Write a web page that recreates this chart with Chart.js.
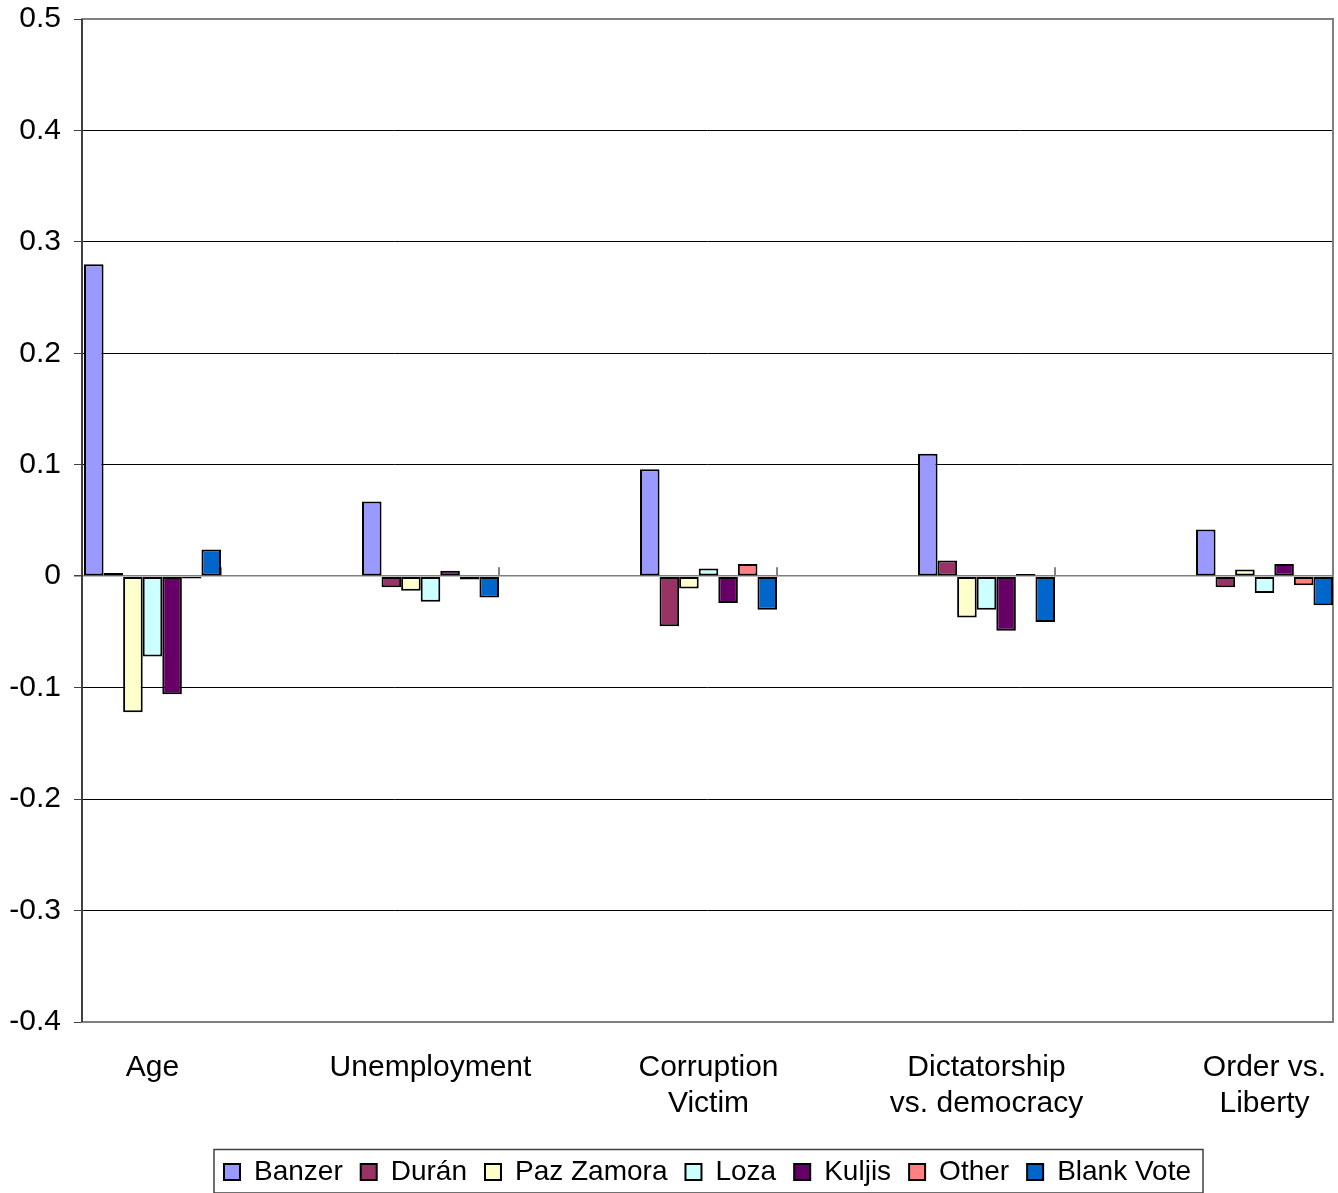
<!DOCTYPE html>
<html>
<head>
<meta charset="utf-8">
<title>Vote choice effects</title>
<script src="https://cdn.jsdelivr.net/npm/chart.js@4/dist/chart.umd.min.js"></script>
<style>
  html, body { margin: 0; padding: 0; background: #ffffff; }
  #wrap { width: 1338px; height: 1193px; position: relative; }
</style>
</head>
<body>
<div id="wrap"><canvas id="chart"></canvas></div>
<script>
// Explanatory variables (multi-line labels as arrays of lines)
const categories = [
  ["Age"],
  ["Unemployment"],
  ["Corruption", "Victim"],
  ["Dictatorship", "vs. democracy"],
  ["Order vs.", "Liberty"]
];

// Candidates / vote options
const seriesNames = ["Banzer", "Durán", "Paz Zamora", "Loza", "Kuljis", "Other", "Blank Vote"];

// Effect sizes per category
const banzer    = [0.280, 0.067, 0.096, 0.110, 0.042];
const duran     = [0.003, -0.010, -0.045, 0.014, -0.010];
const pazZamora = [-0.122, -0.013, -0.011, -0.037, 0.006];
const loza      = [-0.072, -0.023, 0.007, -0.030, -0.015];
const kuljis    = [-0.106, 0.005, -0.024, -0.049, 0.011];
const other     = [-0.002, -0.003, 0.011, 0.002, -0.008];
const blankVote = [0.024, -0.019, -0.030, -0.041, -0.026];

// Value axis ticks
const yTickValues = [-0.4, -0.3, -0.2, -0.1, 0, 0.1, 0.2, 0.3, 0.4, 0.5];
const yTickLabels = ["-0.4", "-0.3", "-0.2", "-0.1", "0", "0.1", "0.2", "0.3", "0.4", "0.5"];

const seriesValues = [banzer, duran, pazZamora, loza, kuljis, other, blankVote];
const seriesColors = ["#9999FF", "#993366", "#FFFFCC", "#CCFFFF", "#660066", "#FF8080", "#0066CC"];

const FONT = "'Liberation Sans', Arial, sans-serif";

const datasets = seriesNames.map((name, s) => ({
  label: name,
  data: seriesValues[s].map((v, i) => ({ x: i, y: v })),
  backgroundColor: seriesColors[s],
  borderColor: "#000000",
  borderWidth: 2,
  borderSkipped: false,
  categoryPercentage: 0.493,
  barPercentage: 1.0
}));

// Plot frame, zero-line tick marks and legend box
const framePlugin = {
  id: "frame",
  beforeDatasetsDraw(chart) {
    const { ctx, chartArea: a, scales } = chart;
    ctx.save();
    ctx.strokeStyle = "#808080";
    ctx.lineWidth = 2;
    ctx.strokeRect(a.left, a.top, a.right - a.left, a.bottom - a.top);
    // left value axis line
    ctx.strokeStyle = "#404040";
    ctx.beginPath();
    ctx.moveTo(a.left, a.top);
    ctx.lineTo(a.left, a.bottom);
    ctx.stroke();
    // small category separators on the zero line, at the right end of each cluster
    const y0 = scales.y.getPixelForValue(0);
    const lastMeta = chart.getDatasetMeta(chart.data.datasets.length - 1);
    ctx.strokeStyle = "#808080";
    ctx.lineWidth = 2;
    lastMeta.data.forEach(bar => {
      const xr = bar.x + bar.width / 2;
      ctx.beginPath();
      ctx.moveTo(xr, y0);
      ctx.lineTo(xr, y0 - 9);
      ctx.stroke();
    });
    ctx.restore();
  },
  afterDraw(chart) {
    const lg = chart.legend;
    if (!lg || !lg.legendHitBoxes || !lg.legendHitBoxes.length) return;
    const hb = lg.legendHitBoxes;
    const left = Math.min(...hb.map(h => h.left)) - 10;
    const right = Math.max(...hb.map(h => h.left + h.width)) + 12;
    const cy = hb[0].top + hb[0].height / 2;
    const { ctx } = chart;
    ctx.save();
    ctx.strokeStyle = "#404040";
    ctx.lineWidth = 1.5;
    ctx.strokeRect(left, cy - 22.5, right - left, 43.5);
    ctx.restore();
  }
};

new Chart(document.getElementById("chart"), {
  type: "bar",
  data: { datasets },
  plugins: [framePlugin],
  options: {
    responsive: true,
    maintainAspectRatio: false,
    animation: false,
    devicePixelRatio: 1,
    layout: { padding: { top: 19, right: 5, left: 0, bottom: -3 } },
    plugins: {
      tooltip: { enabled: false },
      legend: {
        position: "bottom",
        fullSize: false,
        labels: {
          boxWidth: 16,
          boxHeight: 16,
          padding: 18,
          color: "#000000",
          font: { family: FONT, size: 28 }
        }
      }
    },
    scales: {
      x: {
        type: "linear",
        min: -0.2536,
        max: 4.2464,
        offset: false,
        grid: { display: false, offset: false },
        border: { display: false },
        afterBuildTicks: scale => { scale.ticks = categories.map((_, i) => ({ value: i })); },
        afterFit: scale => {
          scale.height = 118;
          scale.paddingLeft = 0;
          scale.paddingRight = 0;
        },
        ticks: {
          autoSkip: false,
          maxRotation: 0,
          minRotation: 0,
          padding: 20,
          color: "#000000",
          font: { family: FONT, size: 30, lineHeight: 1.2 },
          callback: value => categories[value]
        }
      },
      y: {
        min: -0.4,
        max: 0.5,
        afterBuildTicks: scale => { scale.ticks = yTickValues.map(v => ({ value: v })); },
        afterFit: scale => {
          scale.width = 82;
          scale.paddingTop = 0;
          scale.paddingBottom = 0;
        },
        grid: {
          color: c => (c.tick && c.tick.value === 0 ? "#808080" : "#000000"),
          lineWidth: c => (c.tick && c.tick.value === 0 ? 1.5 : 1),
          tickColor: "#404040",
          tickLength: 8,
          drawTicks: true
        },
        border: { display: false },
        ticks: {
          padding: 13,
          color: "#000000",
          font: { family: FONT, size: 30 },
          callback: value => yTickLabels[yTickValues.indexOf(value)]
        }
      }
    }
  }
});
</script>
</body>
</html>
